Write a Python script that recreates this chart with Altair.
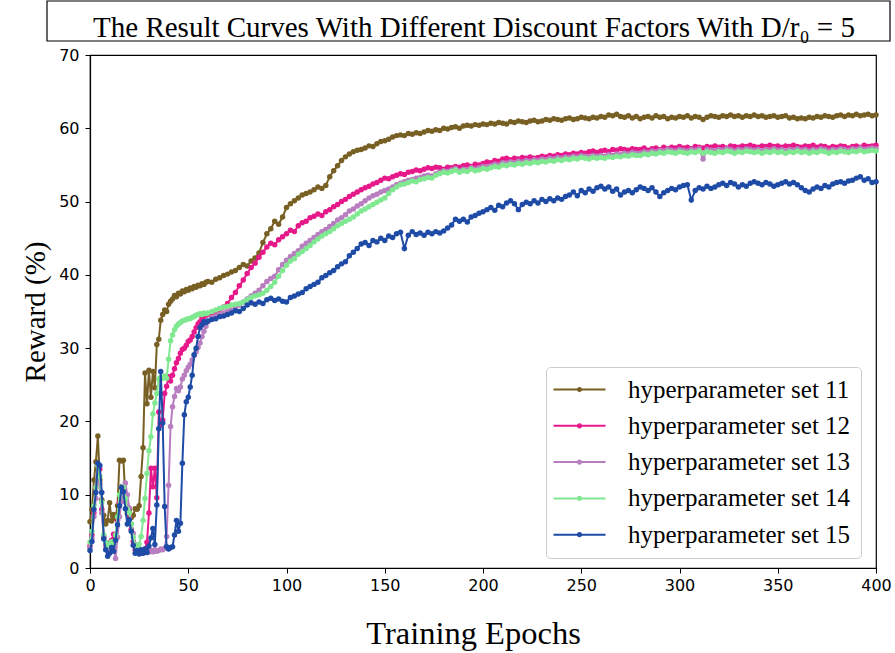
import altair as alt
import pandas as pd

TITLE = "The Result Curves With Different Discount Factors With D/r\u2080 = 5"

SERIES = [
    "hyperparameter set 11",
    "hyperparameter set 12",
    "hyperparameter set 13",
    "hyperparameter set 14",
    "hyperparameter set 15",
]
COLORS = ["#785F24", "#E6198A", "#B87EC0", "#80E890", "#1E4BA6"]

X_TICKS = [0, 50, 100, 150, 200, 250, 300, 350, 400]
Y_TICKS = [0, 10, 20, 30, 40, 50, 60, 70]

# Reward per epoch, epochs 0-59
EARLY_11 = [
    6.3, 8.0, 12.0, 14.5, 18.0, 12.0, 9.3, 7.2, 6.0, 6.5,
    8.9, 6.4, 7.3, 6.8, 8.5, 14.7, 14.6, 14.7, 9.6, 7.4,
    7.9, 6.9, 7.2, 8.1, 8.0, 8.5, 12.5, 16.4, 26.6, 22.4,
    27.0, 23.3, 26.8, 24.6, 30.5, 31.2, 33.8, 34.6, 35.2, 35.0,
    36.0, 36.4, 36.7, 37.2, 37.0, 37.5, 37.4, 37.8, 37.7, 38.0,
    37.9, 38.2, 38.1, 38.4, 38.3, 38.6, 38.5, 38.8, 38.7, 39.0,
]
EARLY_12 = [
    3.0, 4.5, 7.5, 11.0, 14.0, 13.5, 8.0, 4.3, 3.2, 2.8,
    3.4, 3.8, 4.6, 4.0, 6.5, 9.0, 11.1, 10.5, 9.8, 8.0,
    7.0, 5.3, 3.6, 2.5, 2.3, 2.1, 2.0, 2.2, 2.6, 3.5,
    7.5, 13.6, 11.1, 13.6, 9.6, 21.3, 19.5, 20.2, 23.8, 24.8,
    26.1, 25.5, 26.3, 27.2, 28.0, 28.6, 29.3, 29.8, 30.0, 30.4,
    30.9, 31.1, 31.6, 32.2, 32.8, 33.3, 33.6, 34.1, 34.3, 34.5,
]
EARLY_13 = [
    2.8, 4.0, 7.0, 9.5, 12.5, 11.5, 7.5, 4.0, 3.0, 2.6,
    3.0, 3.5, 2.8, 1.3, 4.2, 7.0, 9.0, 10.8, 11.6, 10.0,
    8.2, 6.0, 4.7, 3.2, 2.6, 2.3, 2.2, 2.4, 2.1, 2.3,
    2.2, 2.4, 2.2, 2.5, 2.3, 2.4, 2.6, 2.5, 2.7, 4.3,
    11.3, 19.3, 22.0, 23.4, 24.5, 24.2, 24.7, 25.8, 26.3, 26.9,
    27.4, 27.8, 28.4, 29.0, 29.5, 30.1, 30.7, 31.6, 32.3, 33.0,
]
EARLY_14 = [
    3.5, 5.0, 8.5, 11.0, 14.0, 12.5, 9.0, 4.5, 3.5, 3.0,
    3.2, 3.6, 3.3, 4.5, 7.0, 10.0, 11.1, 11.0, 9.5, 8.0,
    7.5, 6.0, 4.2, 3.1, 2.5, 3.2, 4.3, 6.5, 9.5, 12.9,
    16.0, 17.9, 21.0, 22.5, 23.8, 25.8, 26.0, 25.9, 26.2, 25.9,
    28.5, 31.0, 31.8, 32.5, 33.0, 33.3, 33.5, 33.7, 33.8, 33.9,
    34.0, 34.0, 34.2, 34.3, 34.5, 34.6, 34.7, 34.6, 34.8, 34.7,
]
EARLY_15 = [
    2.4, 3.6, 8.0, 10.3, 14.3, 14.0, 10.3, 4.0, 2.5, 1.6,
    2.0, 2.8, 2.3, 3.8, 5.9, 8.5, 11.0, 10.4, 8.1, 6.0,
    6.6, 5.0, 3.1, 2.0, 2.4, 1.9, 2.5, 2.0, 2.6, 2.1,
    3.0, 4.1, 5.4, 3.2, 8.6, 19.0, 26.8, 19.8, 8.4, 2.9,
    2.6, 2.8, 2.9, 4.5, 6.5, 5.0, 6.1, 14.3, 20.9, 22.7,
    23.3, 24.7, 26.3, 29.1, 30.0, 31.6, 32.8, 33.2, 33.6, 33.5,
]

# Reward every second epoch, epochs 60-400 (one row = 20 epochs)
LATE_11 = [
    39.1, 39.0, 39.4, 39.6, 39.9, 40.1, 40.4, 40.6, 41.0, 41.4,
    41.2, 41.9, 42.3, 43.0, 44.4, 45.6, 46.3, 47.3, 46.9, 47.9,
    49.2, 49.7, 50.1, 50.5, 50.9, 51.1, 51.3, 51.6, 52.0, 51.8,
    52.2, 53.4, 54.2, 54.9, 55.6, 56.1, 56.5, 56.8, 57.0, 57.1,
    57.3, 57.6, 57.5, 57.9, 58.2, 58.3, 58.5, 58.8, 59.0, 59.1,
    59.0, 59.3, 59.2, 59.4, 59.3, 59.5, 59.7, 59.6, 59.8, 59.7,
    60.0, 59.9, 60.1, 60.2, 60.0, 60.3, 60.4, 60.3, 60.5, 60.4,
    60.6, 60.5, 60.7, 60.6, 60.8, 60.7, 60.6, 60.9, 60.8, 61.0,
    60.9, 60.8, 61.0, 61.1, 60.9, 61.0, 61.2, 61.1, 61.3, 61.2,
    61.1, 61.3, 61.4, 61.2, 61.3, 61.5, 61.4, 61.3, 61.5, 61.4,
    61.6, 61.5, 61.8, 61.7, 61.9, 61.6, 61.5, 61.7, 61.4, 61.6,
    61.3, 61.5, 61.6, 61.4, 61.7, 61.5, 61.6, 61.3, 61.5, 61.4,
    61.6, 61.5, 61.7, 61.4, 61.6, 61.5, 61.2, 61.5, 61.7, 61.6,
    61.5, 61.7, 61.6, 61.8, 61.6, 61.7, 61.5, 61.7, 61.6, 61.8,
    61.6, 61.7, 61.5, 61.6, 61.7, 61.5, 61.6, 61.7, 61.4, 61.5,
    61.3, 61.4, 61.3, 61.5, 61.4, 61.6, 61.5, 61.7, 61.6, 61.5,
    61.7, 61.8, 61.6, 61.8, 61.7, 61.9, 61.7, 61.8, 61.9, 61.7,
    61.8,
]
LATE_12 = [
    34.6, 34.8, 35.0, 35.3, 35.6, 36.1, 36.9, 37.6, 38.5, 39.3,
    40.2, 41.0, 41.6, 42.4, 43.1, 43.8, 44.3, 44.1, 44.8, 45.2,
    45.6, 46.1, 45.9, 46.7, 47.1, 47.3, 47.8, 48.0, 48.3, 48.1,
    48.6, 48.9, 49.3, 49.6, 50.0, 50.3, 50.7, 51.0, 51.3, 51.6,
    51.9, 52.1, 52.4, 52.6, 52.9, 53.2, 53.1, 53.4, 53.6, 53.8,
    53.7, 54.0, 54.1, 54.3, 54.2, 54.4, 54.6, 54.5, 54.7, 54.6,
    54.4, 54.7, 54.6, 54.8, 54.7, 54.9, 55.0, 54.8, 55.1, 55.0,
    55.2, 55.4, 55.3, 55.6, 55.5, 55.8, 55.9, 55.7, 55.9, 55.8,
    56.0, 55.9, 56.1, 55.9, 56.0, 56.2, 56.1, 56.3, 56.2, 56.4,
    56.3, 56.5, 56.4, 56.6, 56.5, 56.7, 56.6, 56.8, 56.9, 56.7,
    56.9, 57.0, 56.8, 57.1, 57.0, 57.2, 57.1, 57.0, 57.2, 57.1,
    57.1, 57.3, 57.0, 57.2, 57.3, 57.1, 57.4, 57.2, 57.4, 57.3,
    57.5, 57.3, 57.4, 57.2, 57.5, 57.4, 57.3, 57.5, 57.4, 57.6,
    57.4, 57.5, 57.3, 57.6, 57.5, 57.4, 57.6, 57.5, 57.7, 57.5,
    57.4, 57.6, 57.5, 57.7, 57.5, 57.6, 57.4, 57.6, 57.5, 57.7,
    57.5, 57.4, 57.6, 57.5, 57.7, 57.4, 57.6, 57.5, 57.3, 57.5,
    57.4, 57.6, 57.5, 57.3, 57.5, 57.6, 57.4, 57.7, 57.5, 57.6,
    57.7,
]
LATE_13 = [
    33.6, 34.1, 34.4, 34.6, 34.8, 35.0, 35.2, 35.5, 35.9, 36.3,
    36.7, 37.1, 37.5, 37.9, 38.5, 39.1, 39.5, 39.8, 40.7, 41.4,
    42.0, 42.5, 42.9, 43.3, 43.9, 44.3, 44.7, 45.1, 45.5, 45.9,
    46.2, 46.6, 47.0, 47.5, 47.8, 48.2, 48.7, 49.0, 49.4, 49.7,
    50.1, 50.5, 50.8, 51.0, 51.3, 51.5, 51.7, 52.0, 52.3, 52.5,
    52.7, 52.9, 53.0, 53.2, 53.3, 53.5, 53.6, 53.5, 53.8, 54.0,
    54.2, 54.1, 54.3, 54.5, 54.2, 54.4, 54.3, 54.6, 54.4, 54.6,
    54.8, 54.7, 54.9, 55.1, 55.0, 55.3, 55.2, 55.4, 55.3, 55.5,
    55.4, 55.6, 55.5, 55.7, 55.6, 55.8, 55.7, 55.9, 55.8, 56.0,
    55.9, 56.1, 56.0, 56.2, 56.1, 56.3, 56.2, 56.1, 56.3, 56.2,
    56.3, 56.2, 56.4, 56.3, 56.5, 56.4, 56.6, 56.5, 56.7, 56.6,
    56.6, 56.8, 56.7, 56.9, 56.8, 57.0, 56.9, 57.1, 57.0, 56.9,
    57.1, 57.0, 56.9, 57.1, 57.0, 57.2, 55.8, 57.1, 57.0, 56.9,
    57.1, 57.0, 57.2, 57.1, 56.9, 57.1, 57.0, 57.2, 57.1, 57.0,
    57.1, 56.9, 57.1, 57.0, 57.2, 57.0, 57.1, 56.9, 57.1, 57.0,
    57.2, 57.0, 57.1, 56.9, 57.1, 57.0, 57.2, 57.1, 56.9, 57.1,
    57.0, 57.2, 57.1, 57.0, 57.2, 57.1, 57.3, 57.1, 57.2, 57.3,
    57.2,
]
LATE_14 = [
    34.8, 35.0, 35.2, 35.4, 35.6, 35.7, 35.9, 36.0, 36.1, 36.3,
    36.6, 36.9, 37.1, 37.3, 37.5, 37.9, 38.4, 39.0, 39.8, 40.6,
    41.3, 41.9, 42.2, 42.8, 43.2, 43.6, 44.0, 44.5, 44.9, 45.3,
    45.6, 45.9, 46.3, 46.7, 47.0, 47.3, 47.6, 47.9, 48.3, 48.7,
    49.0, 49.3, 49.6, 49.9, 50.2, 50.5, 51.1, 51.6, 52.0, 52.3,
    52.4, 52.6, 52.8, 52.7, 53.0, 53.1, 53.3, 53.2, 53.6, 53.8,
    54.0, 53.9, 54.1, 54.3, 54.0, 54.2, 54.1, 54.4, 54.2, 54.3,
    54.5, 54.4, 54.6, 54.8, 54.7, 55.0, 54.9, 55.1, 55.0, 55.2,
    55.1, 55.3, 55.2, 55.4, 55.3, 55.5, 55.4, 55.6, 55.5, 55.7,
    55.6, 55.8, 55.7, 55.9, 55.8, 56.0, 55.9, 55.8, 56.0, 55.9,
    56.0, 55.9, 56.1, 56.0, 56.2, 56.1, 56.3, 56.2, 56.4, 56.3,
    56.3, 56.5, 56.4, 56.6, 56.5, 56.7, 56.6, 56.8, 56.7, 56.6,
    56.8, 56.7, 56.6, 56.8, 56.7, 56.9, 56.6, 56.8, 56.7, 56.6,
    56.8, 56.7, 56.9, 56.8, 56.6, 56.8, 56.7, 56.9, 56.8, 56.7,
    56.8, 56.6, 56.8, 56.7, 56.9, 56.7, 56.8, 56.6, 56.8, 56.7,
    56.9, 56.7, 56.8, 56.6, 56.8, 56.7, 56.9, 56.8, 56.6, 56.8,
    56.7, 56.9, 56.8, 56.7, 56.9, 56.8, 57.0, 56.8, 56.9, 57.0,
    56.9,
]
LATE_15 = [
    33.7, 33.9, 34.0, 34.3, 34.4, 34.6, 34.8, 35.1, 35.0, 35.4,
    35.9, 36.2, 36.0, 36.3, 36.1, 36.6, 36.8, 36.5, 36.7, 36.4,
    36.3, 36.9, 37.1, 37.4, 37.6, 38.1, 38.4, 38.7, 39.0, 39.6,
    39.9, 40.3, 40.6, 41.1, 41.5, 41.8, 42.6, 43.1, 43.6, 44.2,
    44.4, 44.0, 44.7, 44.5, 45.0, 44.7, 45.3, 45.1, 45.6, 45.8,
    43.6, 45.4, 45.9, 45.5, 45.7, 45.4, 45.8, 45.6, 45.9, 45.7,
    46.0, 46.4, 46.8, 47.6, 47.3, 47.6, 47.2, 47.9, 48.1, 48.4,
    48.6, 48.9, 49.2, 48.8, 49.5, 49.3, 49.8, 50.1, 49.7, 48.9,
    49.6, 49.9, 49.7, 50.1, 49.8, 50.3, 50.0, 50.4, 50.1, 50.5,
    50.3, 50.7, 50.9, 51.3, 50.8, 51.5, 51.2, 51.7, 51.4, 51.9,
    52.1, 51.7, 52.0, 51.4, 51.7, 50.9, 51.3, 51.5, 51.2, 51.6,
    52.0, 51.8, 51.5, 51.9, 51.3, 50.7, 51.2, 51.5, 51.8, 51.6,
    52.0, 52.2, 52.3, 50.2, 51.5, 51.9, 51.7, 52.1, 51.8, 52.0,
    52.3, 52.5, 52.2, 52.6, 52.4, 52.0, 52.3, 52.1, 52.5, 52.7,
    52.5, 52.3, 52.6, 52.4, 52.1, 52.3, 52.5, 52.7, 52.4, 52.6,
    52.3, 51.9, 51.5, 51.3, 51.7, 52.0, 51.8, 52.2, 52.0, 52.4,
    52.6, 52.7, 52.5, 52.8, 52.9, 53.2, 53.4, 52.9, 53.1, 52.6,
    52.7,
]

EARLY = [EARLY_11, EARLY_12, EARLY_13, EARLY_14, EARLY_15]
LATE = [LATE_11, LATE_12, LATE_13, LATE_14, LATE_15]


def series_frame(name, early, late):
    epochs = list(range(len(early))) + [len(early) + 2 * i for i in range(len(late))]
    return pd.DataFrame({"epoch": epochs, "reward": early + late, "series": name})


data = pd.concat(
    [series_frame(n, e, l) for n, e, l in zip(SERIES, EARLY, LATE)],
    ignore_index=True,
)

x_enc = alt.X(
    "epoch:Q",
    scale=alt.Scale(domain=[0, 400], nice=False),
    axis=alt.Axis(
        values=X_TICKS, title="Training Epochs", titleFontSize=32.5,
        titleX=383, titleAlign="center", titleY=75, titleBaseline="alphabetic",
        labelPadding=4, labelFlush=False,
    ),
)
y_enc = alt.Y(
    "reward:Q",
    scale=alt.Scale(domain=[0, 70], nice=False),
    axis=alt.Axis(
        values=Y_TICKS, title="Reward (%)", titleFontSize=29,
        titleX=-55, titleBaseline="middle", labelPadding=6, labelFlush=False,
    ),
)

legend = alt.Legend(
    title=None,
    orient="none",
    legendX=456,
    legendY=312,
    direction="vertical",
    symbolType="M-4,0H4M-0.25,0A0.25,0.25,0,1,1,0.25,0A0.25,0.25,0,1,1,-0.25,0",
    symbolSize=169,
    symbolStrokeWidth=2,
    symbolOffset=11,
    labelOffset=36,
    labelFont="Liberation Serif",
    labelFontSize=25,
    labelColor="black",
    labelLimit=400,
    rowPadding=10.3,
    padding=10,
    strokeColor="#cccccc",
    fillColor="white",
    cornerRadius=4,
)

color_enc = alt.Color(
    "series:N", scale=alt.Scale(domain=SERIES, range=COLORS), legend=legend
)

layers = []
for name, col in zip(SERIES, COLORS):
    base = alt.Chart(data).transform_filter(alt.datum.series == name)
    layers.append(
        base.mark_line(strokeWidth=2).encode(x=x_enc, y=y_enc, color=color_enc)
    )
    layers.append(
        base.mark_circle(size=30, opacity=1).encode(
            x=x_enc, y=y_enc, color=alt.value(col)
        )
    )

title_df = pd.DataFrame({"t": [TITLE]})
title_box = alt.Chart(title_df).mark_rect(
    fillOpacity=0, stroke="black", strokeWidth=1.2
).encode(
    x=alt.value(-43), x2=alt.value(800), y=alt.value(-54), y2=alt.value(-14)
)
title_text = alt.Chart(title_df).mark_text(
    font="Liberation Serif", fontSize=29, align="center",
    baseline="alphabetic", color="black",
).encode(x=alt.value(384), y=alt.value(-18), text="t:N")

chart = (
    alt.layer(*layers, title_box, title_text)
    .properties(
        width=786,
        height=513,
        padding={"left": 90, "top": 55, "right": 19, "bottom": 85},
        autosize=alt.AutoSizeParams(type="none"),
    )
    .configure_view(stroke="black", strokeWidth=1.2)
    .configure_axis(
        grid=False,
        domainColor="black",
        domainWidth=1.2,
        tickColor="black",
        tickSize=5,
        labelColor="black",
        labelFont="DejaVu Sans",
        labelFontSize=16,
        titleFont="Liberation Serif",
        titleFontWeight="normal",
        titleColor="black",
    )
)

chart.save("out.html", embed_options={"renderer": "svg", "actions": False})
